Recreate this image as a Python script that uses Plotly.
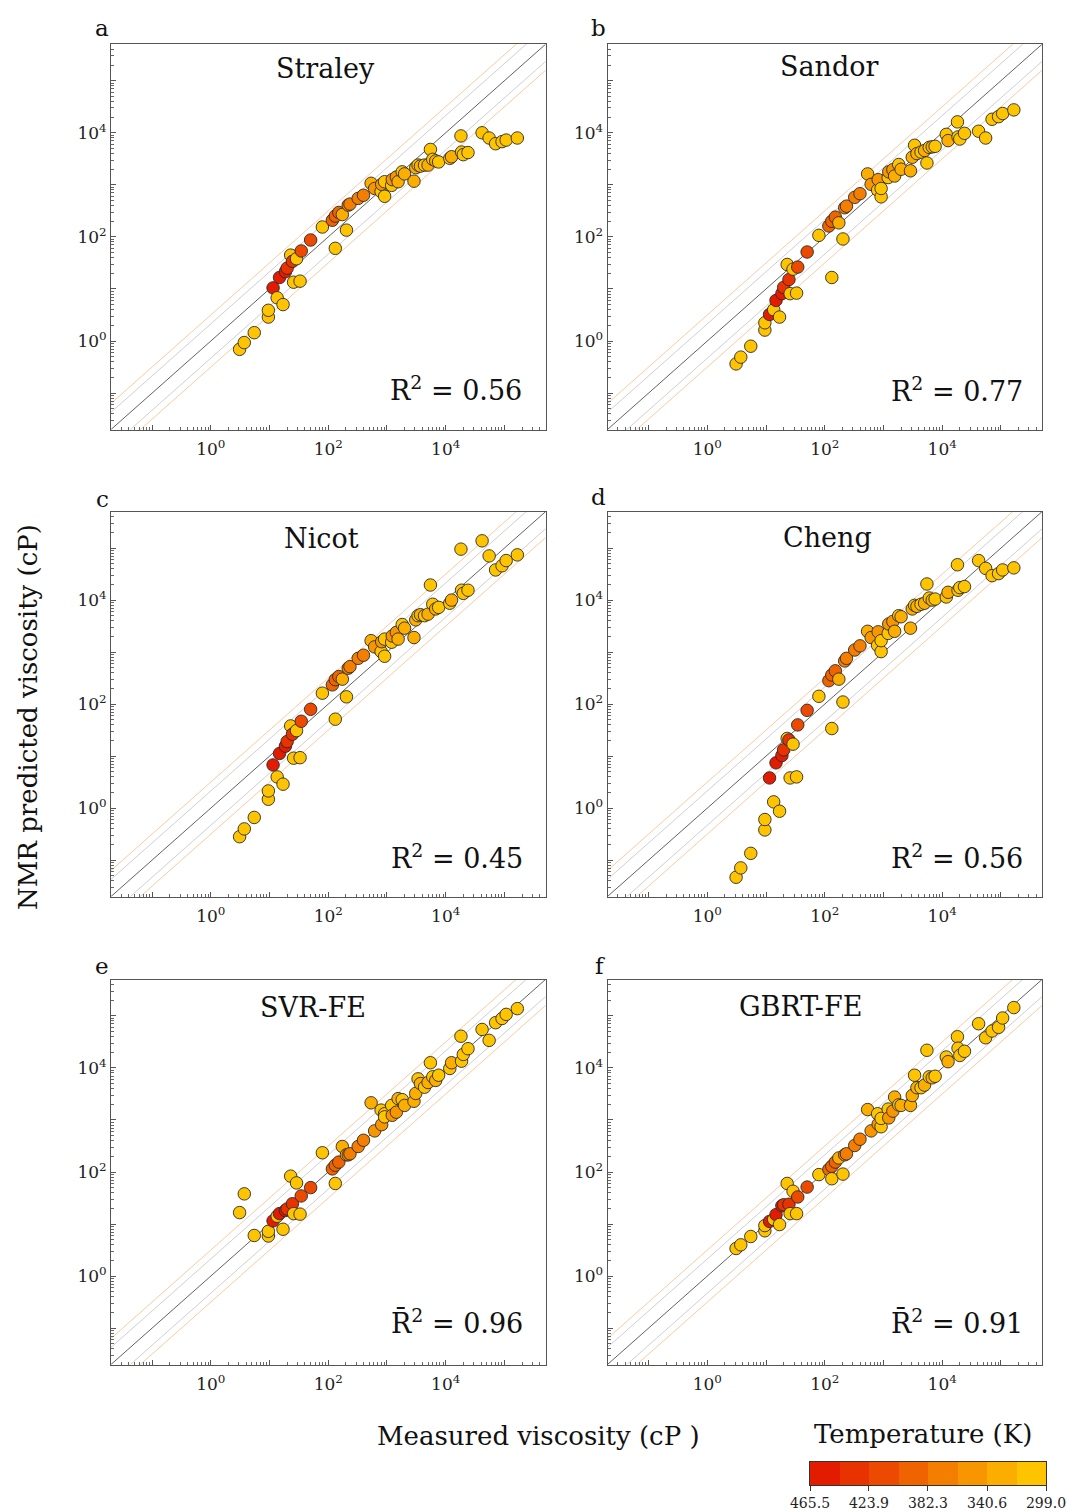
import plotly.graph_objects as go

W, H = 1067, 1512
FONT = "DejaVu Serif"

# ---------------- data (log10 of viscosity in cP) ----------------
measured_log10 = [0.49, 0.57, 0.74, 0.98, 0.98, 1.06, 1.13, 1.17, 1.23, 1.27,
                  1.30, 1.36, 1.39, 1.41, 1.46, 1.52, 1.54, 1.70, 1.90, 2.07,
                  2.12, 2.12, 2.18, 2.24, 2.31, 2.34, 2.37, 2.51, 2.60, 2.73,
                  2.79, 2.90, 2.91, 2.96, 2.96, 3.08, 3.09, 3.16, 3.19, 3.26,
                  3.30, 3.46, 3.49, 3.53, 3.57, 3.64, 3.70, 3.74, 3.78, 3.83,
                  3.88, 4.07, 4.10, 4.26, 4.27, 4.30, 4.38, 4.62, 4.74, 4.85,
                  4.96, 5.03, 5.22]

temperature_K = [300, 300, 300, 300, 300, 465, 302, 455, 300, 445,
                 435, 305, 430, 302, 310, 302, 420, 420, 305, 400,
                 395, 305, 385, 320, 305, 380, 375, 370, 365, 330,
                 345, 315, 355, 305, 315, 310, 350, 345, 320, 305,
                 335, 320, 335, 310, 330, 315, 320, 305, 315, 325,
                 315, 315, 325, 305, 310, 310, 315, 300, 305, 305,
                 305, 305, 305]

straley_log10 = [-0.16, -0.03, 0.16, 0.46, 0.59, 1.02, 0.83, 1.22, 0.70, 1.33,
                 1.40, 1.65, 1.53, 1.13, 1.58, 1.15, 1.73, 1.94, 2.19, 2.32,
                 2.40, 1.78, 2.47, 2.43, 2.13, 2.61, 2.63, 2.74, 2.80, 3.03,
                 2.93, 2.87, 3.01, 2.78, 3.06, 2.99, 3.10, 3.15, 3.06, 3.25,
                 3.21, 3.07, 3.33, 3.38, 3.36, 3.38, 3.38, 3.68, 3.49, 3.46,
                 3.44, 3.51, 3.54, 3.94, 3.63, 3.58, 3.62, 4.00, 3.90, 3.79,
                 3.83, 3.86, 3.90]

sandor_log10 = [-0.44, -0.31, -0.10, 0.21, 0.35, 0.51, 0.60, 0.78, 0.46, 0.91,
                1.03, 1.47, 1.18, 0.91, 1.38, 0.92, 1.42, 1.71, 2.03, 2.21,
                2.30, 1.22, 2.38, 2.27, 1.96, 2.56, 2.59, 2.76, 2.83, 3.21,
                3.01, 2.90, 3.10, 2.77, 2.93, 3.14, 3.25, 3.29, 3.17, 3.39,
                3.30, 3.27, 3.53, 3.76, 3.60, 3.63, 3.66, 3.42, 3.72, 3.73,
                3.74, 3.97, 3.85, 4.21, 3.92, 3.88, 3.99, 4.03, 3.90, 4.26,
                4.31, 4.37, 4.44]

nicot_log10 = [-0.55, -0.40, -0.18, 0.17, 0.33, 0.83, 0.60, 1.05, 0.46, 1.19,
               1.28, 1.58, 1.42, 0.96, 1.49, 0.97, 1.67, 1.90, 2.21, 2.37,
               2.47, 1.71, 2.53, 2.48, 2.14, 2.69, 2.72, 2.88, 2.94, 3.22,
               3.10, 3.01, 3.20, 2.92, 3.25, 3.19, 3.31, 3.38, 3.25, 3.53,
               3.46, 3.28, 3.62, 3.70, 3.72, 3.70, 3.73, 4.29, 3.92, 3.83,
               3.86, 3.94, 4.00, 4.98, 4.19, 4.13, 4.19, 5.14, 4.85, 4.58,
               4.66, 4.76, 4.87]

cheng_log10 = [-1.33, -1.15, -0.87, -0.42, -0.22, 0.58, 0.12, 0.87, -0.06, 1.01,
               1.12, 1.34, 1.31, 0.58, 1.23, 0.60, 1.60, 1.88, 2.15, 2.45,
               2.56, 1.53, 2.64, 2.48, 2.04, 2.83, 2.88, 3.04, 3.12, 3.40,
               3.28, 3.13, 3.39, 3.01, 3.22, 3.36, 3.54, 3.59, 3.40, 3.70,
               3.68, 3.46, 3.83, 3.90, 3.88, 3.92, 3.94, 4.31, 4.04, 4.00,
               4.02, 4.06, 4.15, 4.68, 4.19, 4.24, 4.26, 4.76, 4.61, 4.47,
               4.51, 4.58, 4.62]

svr_fe_log10 = [1.22, 1.58, 0.78, 0.77, 0.86, 1.06, 1.15, 1.20, 0.90, 1.26,
                1.29, 1.92, 1.39, 1.20, 1.79, 1.19, 1.54, 1.70, 2.37, 2.06,
                2.13, 1.78, 2.19, 2.49, 2.33, 2.33, 2.35, 2.49, 2.61, 3.33,
                2.79, 3.19, 2.91, 3.12, 3.06, 3.28, 3.09, 3.15, 3.41, 3.39,
                3.28, 3.36, 3.51, 3.79, 3.70, 3.63, 3.72, 4.10, 3.83, 3.76,
                3.86, 3.99, 4.10, 4.61, 4.13, 4.26, 4.37, 4.74, 4.53, 4.87,
                4.95, 5.03, 5.14]

gbrt_fe_log10 = [0.53, 0.60, 0.76, 0.87, 0.97, 1.05, 1.09, 1.18, 0.99, 1.35,
                 1.37, 1.78, 1.38, 1.20, 1.63, 1.20, 1.52, 1.71, 1.95, 2.05,
                 2.11, 1.87, 2.19, 2.27, 1.96, 2.33, 2.35, 2.51, 2.63, 3.20,
                 2.79, 3.12, 2.92, 2.87, 3.03, 3.21, 3.04, 3.17, 3.44, 3.29,
                 3.28, 3.28, 3.47, 3.86, 3.62, 3.62, 3.67, 4.34, 3.83, 3.81,
                 3.84, 4.21, 4.12, 4.60, 4.38, 4.24, 4.32, 4.85, 4.58, 4.71,
                 4.78, 4.96, 5.16]

panel_letters = ["a", "b", "c", "d", "e", "f"]
panel_titles = ["Straley", "Sandor", "Nicot", "Cheng", "SVR-FE", "GBRT-FE"]
panel_scores = ["R<sup>2</sup> = 0.56", "R<sup>2</sup> = 0.77",
                "R<sup>2</sup> = 0.45", "R<sup>2</sup> = 0.56",
                "R\u0304<sup>2</sup> = 0.96", "R\u0304<sup>2</sup> = 0.91"]
panel_preds = [straley_log10, sandor_log10, nicot_log10, cheng_log10,
               svr_fe_log10, gbrt_fe_log10]

temp_ticks = [465.5, 423.9, 382.3, 340.6, 299.0]
temp_min, temp_max = 299.0, 465.5

# guide lines: y = x * 10**offset (decades)
guide_offsets = [-0.5, -0.33, 0.0, 0.33, 0.5]
guide_colors = ["#f8c49a", "#c9c9c9", "#505050", "#c9c9c9", "#f8c49a"]

# ---------------- styling / layout ----------------
bin_colors = ["#ffc400", "#fbae00", "#f79600", "#f47e00", "#f06400",
              "#ec4a00", "#e83300", "#e31b00"]  # low T -> high T
n_bins = len(bin_colors)
colorscale = []
for i, c in enumerate(bin_colors):
    colorscale.append([i / n_bins, c])
    colorscale.append([(i + 1) / n_bins, c])

X_DOM_PX = [(111, 545.5), (607.5, 1042)]
Y_DOM_PX = [(44.3, 429.5), (511.7, 896.5), (979.5, 1364.5)]
letter_pos = [(102, 28), (598, 28), (102, 499), (598, 497), (102, 966), (600, 966)]
title_pos = [(325, 68), (829, 67), (321, 538), (827, 537), (313, 1007), (800, 1006)]
score_pos = [(524, 388), (1025, 389), (525, 857), (1025, 857), (525, 1321), (1025, 1321)]

LOG_RANGE = [-1.7, 5.7]


def px(x):
    return x / W


def py(y):
    return 1 - y / H


fig = go.Figure()
layout = dict(width=W, height=H, margin=dict(l=0, r=0, t=0, b=0, autoexpand=False),
              paper_bgcolor="white", plot_bgcolor="white",
              showlegend=False, font=dict(family=FONT, color="#111"))
annotations = []

decades = list(range(-1, 6))
tickvals = [10.0 ** k for k in decades]
ticktext = [f"10<sup>{k}</sup>" if k in (0, 2, 4) else "" for k in decades]

measured = [10 ** v for v in measured_log10]

for i in range(6):
    row, col = divmod(i, 2)
    k = i + 1
    xname = "xaxis" if k == 1 else f"xaxis{k}"
    yname = "yaxis" if k == 1 else f"yaxis{k}"
    xr = "x" if k == 1 else f"x{k}"
    yr = "y" if k == 1 else f"y{k}"
    x0, x1 = X_DOM_PX[col]
    y0, y1 = Y_DOM_PX[row]
    axis_common = dict(type="log", range=LOG_RANGE, showgrid=False, zeroline=False,
                       automargin=False,
                       showline=True, linecolor="#555", linewidth=1, mirror=True,
                       ticks="inside", ticklen=5, tickcolor="#555", tickwidth=1,
                       tickmode="array", tickvals=tickvals, ticktext=ticktext,
                       tickfont=dict(family=FONT, size=17, color="#222"),
                       minor=dict(ticks="inside", ticklen=3, tickcolor="#666",
                                  dtick="D1", showgrid=False))
    layout[xname] = dict(axis_common, domain=[px(x0), px(x1)], anchor=yr,
                         ticklabelstandoff=4)
    layout[yname] = dict(axis_common, domain=[py(y1), py(y0)], anchor=xr)

    gx = [10 ** -3, 10 ** 7]
    for off, c in zip(guide_offsets, guide_colors):
        fig.add_trace(go.Scatter(x=gx, y=[v * 10 ** off for v in gx], mode="lines",
                                 line=dict(color=c, width=0.9), xaxis=xr, yaxis=yr,
                                 hoverinfo="skip"))
    fig.add_trace(go.Scatter(
        x=measured, y=[10 ** v for v in panel_preds[i]], mode="markers",
        xaxis=xr, yaxis=yr,
        marker=dict(size=12.5, color=temperature_K, colorscale=colorscale,
                    cmin=temp_min, cmax=temp_max, showscale=False,
                    line=dict(color="#2a2a2a", width=0.9))))

    lx, ly = letter_pos[i]
    annotations.append(dict(text=panel_letters[i], x=px(lx), y=py(ly), xref="paper", yref="paper",
                            xanchor="center", yanchor="middle", showarrow=False,
                            font=dict(family=FONT, size=23, color="#111")))
    tx, ty = title_pos[i]
    annotations.append(dict(text=panel_titles[i], x=px(tx), y=py(ty), xref="paper", yref="paper",
                            xanchor="center", yanchor="middle", showarrow=False,
                            font=dict(family=FONT, size=27, color="#111")))
    sx, sy = score_pos[i]
    annotations.append(dict(text=panel_scores[i], x=px(sx), y=py(sy), xref="paper", yref="paper",
                            xanchor="right", yanchor="middle", showarrow=False,
                            font=dict(family=FONT, size=27, color="#111")))

# axis titles
annotations.append(dict(text="NMR predicted viscosity (cP)", x=px(28), y=py(717),
                        xref="paper", yref="paper", textangle=-90, showarrow=False,
                        xanchor="center", yanchor="middle",
                        font=dict(family=FONT, size=26, color="#111")))
annotations.append(dict(text="Measured viscosity (cP )", x=px(538), y=py(1436),
                        xref="paper", yref="paper", showarrow=False,
                        xanchor="center", yanchor="middle",
                        font=dict(family=FONT, size=26, color="#111")))
annotations.append(dict(text="Temperature (K)", x=px(923), y=py(1434),
                        xref="paper", yref="paper", showarrow=False,
                        xanchor="center", yanchor="middle",
                        font=dict(family=FONT, size=26, color="#111")))

# colour bar drawn as a heatmap on its own reversed axis
step = (temp_max - temp_min) / n_bins
bin_centers = [temp_min + step * (j + 0.5) for j in range(n_bins)]
fig.add_trace(go.Heatmap(z=[bin_centers], x=bin_centers, y=[0], colorscale=colorscale,
                         zmin=temp_min, zmax=temp_max, showscale=False,
                         xaxis="x7", yaxis="y7", hoverinfo="skip"))
layout["xaxis7"] = dict(domain=[px(810), px(1046)], anchor="y7", automargin=False,
                        range=[temp_max, temp_min], showgrid=False, zeroline=False,
                        showline=True, linecolor="#333", linewidth=1, mirror=True,
                        ticks="outside", ticklen=5, tickcolor="#333",
                        tickmode="array", tickvals=temp_ticks,
                        ticktext=[f"{t:.1f}" for t in temp_ticks],
                        tickfont=dict(family=FONT, size=14, color="#222"))
layout["yaxis7"] = dict(domain=[py(1485), py(1462)], anchor="x7", range=[-0.5, 0.5],
                        automargin=False,
                        showgrid=False, zeroline=False, showline=True, linecolor="#333",
                        linewidth=1, mirror=True, ticks="", showticklabels=False)

layout["annotations"] = annotations
fig.update_layout(**layout)
fig.write_html("out.html")
